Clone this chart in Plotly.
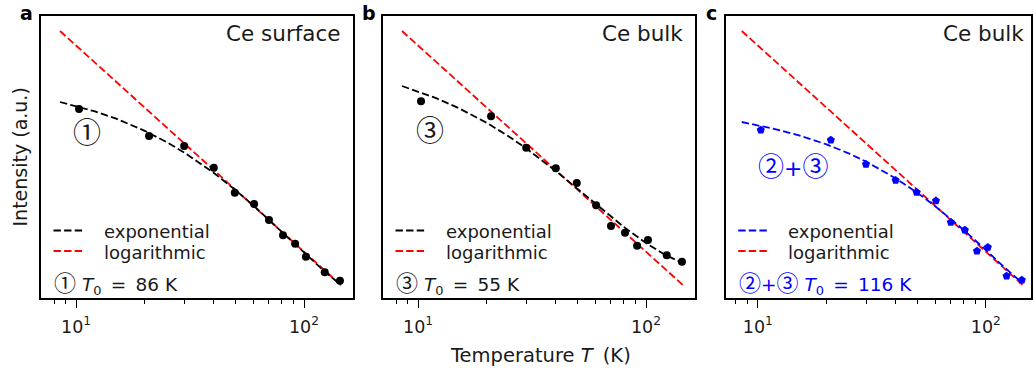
import plotly.graph_objects as go

W, H = 1033, 374

# ---------------- data ----------------
temperature = [10.3, 20.9, 29.8, 40.2, 49.7, 60.4, 70.2, 80.9, 91.4, 102.0, 123.3, 143.8]
intensity_surface = [189, 162, 152, 130.3, 105.3, 94, 78, 62.7, 54.3, 41.3, 25.7, 17.3]
intensity_bulk3 = [196.7, 181.7, 150.3, 129.7, 115, 92.7, 72, 65.3, 52.3, 58, 42.7, 36.3]
intensity_bulk23 = [168, 158, 133.7, 117.7, 105.7, 97.3, 75.7, 68, 47, 50.7, 22, 18]

fit_T = [8.5, 10, 12, 15, 20, 25, 30, 40, 50, 60, 70, 80, 100, 120, 145]
exp_surface = [196.0, 192.0, 186.8, 179.3, 167.2, 155.8, 145.1, 125.5, 108.0, 92.4, 78.5, 66.2, 45.4, 28.9, 13.0]
exp_bulk3 = [212.0, 206.5, 199.8, 190.1, 175.2, 161.6, 149.1, 127.4, 109.2, 94.1, 81.5, 71.0, 54.9, 43.8, 34.7]
exp_bulk23 = [176.0, 172.7, 168.7, 162.9, 153.6, 144.7, 136.1, 120.0, 105.3, 91.8, 79.4, 68.0, 48.0, 31.1, 14.7]
log_T = [8.5, 145]
log_fit = [267, 13]

panel_titles = ["Ce surface", "Ce bulk", "Ce bulk"]
panel_letters = ["a", "b", "c"]
t0_values = [86, 55, 116]
major_ticks = [10, 100]
major_labels = ["10<sup>1</sup>", "10<sup>2</sup>"]
minor_ticks = [7, 8, 9, 20, 30, 40, 50, 60, 70, 80, 90, 200]

# ---------------- styling ----------------
FONT = "DejaVu Sans"
CJK = "Noto Sans CJK JP"
TXT = "#1a1a1a"
BLUE = "#0000ff"
RED = "#ff0000"
DASH = "7.4px,3.2px"
LW = 1.8


def px(x):
    return x / W


def py(y):
    return 1 - y / H


frames = [(41, 353), (383, 695), (725.7, 1031)]
xranges = [[0.846, 2.215], [0.846, 2.215], [0.859, 2.198]]
ydom = [py(298), py(16)]

fig = go.Figure()

series = [
    (intensity_surface, exp_surface, "black", "circle"),
    (intensity_bulk3, exp_bulk3, "black", "circle"),
    (intensity_bulk23, exp_bulk23, BLUE, "pentagon"),
]

for i, (pts, expc, col, sym) in enumerate(series):
    xa = "x" if i == 0 else f"x{i+1}"
    ya = "y" if i == 0 else f"y{i+1}"
    fig.add_trace(go.Scatter(x=log_T, y=log_fit, mode="lines", xaxis=xa, yaxis=ya,
                             line=dict(color=RED, width=LW, dash=DASH), showlegend=False))
    fig.add_trace(go.Scatter(x=fit_T, y=expc, mode="lines", xaxis=xa, yaxis=ya,
                             line=dict(color=col, width=LW, dash=DASH), showlegend=False))
    fig.add_trace(go.Scatter(x=temperature, y=pts, mode="markers", xaxis=xa, yaxis=ya,
                             marker=dict(color=col, size=8 if sym == "circle" else 8.5, symbol=sym,
                                         line=dict(width=0)),
                             showlegend=False))

layout = dict(width=W, height=H, margin=dict(l=0, r=0, t=0, b=0),
              paper_bgcolor="white", plot_bgcolor="white", showlegend=False)

for i in range(3):
    sfx = "" if i == 0 else str(i + 1)
    l, r = frames[i]
    layout["xaxis" + sfx] = dict(
        type="log", domain=[px(l), px(r)], range=xranges[i],
        showline=True, mirror=True, linecolor="black", linewidth=1.6,
        showgrid=False, zeroline=False,
        tickmode="array", tickvals=major_ticks, ticktext=major_labels,
        ticks="outside", ticklen=8, tickwidth=1.4, tickcolor="black",
        ticklabelstandoff=4,
        tickfont=dict(family=FONT, size=17.5, color=TXT),
        minor=dict(tickmode="array", tickvals=minor_ticks, ticks="outside",
                   ticklen=4.5, tickwidth=1.2, tickcolor="black", showgrid=False),
        anchor="y" + sfx,
    )
    layout["yaxis" + sfx] = dict(
        domain=ydom, range=[0, 282], showline=True, mirror=True,
        linecolor="black", linewidth=1.6, showgrid=False, zeroline=False,
        showticklabels=False, ticks="", anchor="x" + sfx,
    )

fig.update_layout(**layout)

ann = []
shapes = []


def text(x, y, s, size, color=TXT, xanchor="left", yanchor="middle", angle=0, family=FONT):
    ann.append(dict(x=px(x), y=py(y), xref="paper", yref="paper", text=s, showarrow=False,
                    xanchor=xanchor, yanchor=yanchor, textangle=angle,
                    font=dict(family=family, size=size, color=color)))


def circ(s, size):
    return '<span style="font-family:\'%s\';font-size:%gpx">%s</span>' % (CJK, size, s)


C1, C2, C3 = "\u2460", "\u2461", "\u2462"
SP = "\u2002"
small_circ = [circ(C1, 22), circ(C3, 22), circ(C2, 22) + "+" + circ(C3, 22)]
for i in range(3):
    l, r = frames[i]
    col = BLUE if i == 2 else "black"
    tcol = BLUE if i == 2 else TXT
    # panel letter
    text(l - 14.5, 0, "<b>%s</b>" % panel_letters[i], 19, color="black", xanchor="center", yanchor="top")
    # title
    text(r - 10.5 if i < 2 else 1026, 33, panel_titles[i], 21.5, xanchor="right")
    # legend handles
    for yy, c in [(230.5, col), (251, RED)]:
        shapes.append(dict(type="line", xref="paper", yref="paper", x0=px(l + 12.5), x1=px(l + 43.5),
                           y0=py(yy), y1=py(yy), line=dict(color=c, width=LW, dash=DASH)))
    text(l + 60.5, 231.5, "exponential", 18)
    text(l + 60.5, 252, "logarithmic", 18)
    text(l + 11, 281, small_circ[i] + " <i>T</i><sub>0</sub>" + SP + "=" + SP + "%d K" % t0_values[i],
         18.5, color=tcol)

# big circled labels
text(86.7, 131, C1, 28, xanchor="center", family=CJK)
text(430, 129.5, C3, 28, xanchor="center", family=CJK)
text(793, 164.5, circ(C2, 26) + "+" + circ(C3, 26), 22, color=BLUE, xanchor="center")

# axis titles
text(540, 355, "Temperature <i>T</i>\u2009 (K)", 19.5, xanchor="center")
text(19.5, 157, "Intensity (a.u.)", 19, xanchor="center", angle=-90)

fig.update_layout(annotations=ann, shapes=shapes)
fig.write_html("out.html")
